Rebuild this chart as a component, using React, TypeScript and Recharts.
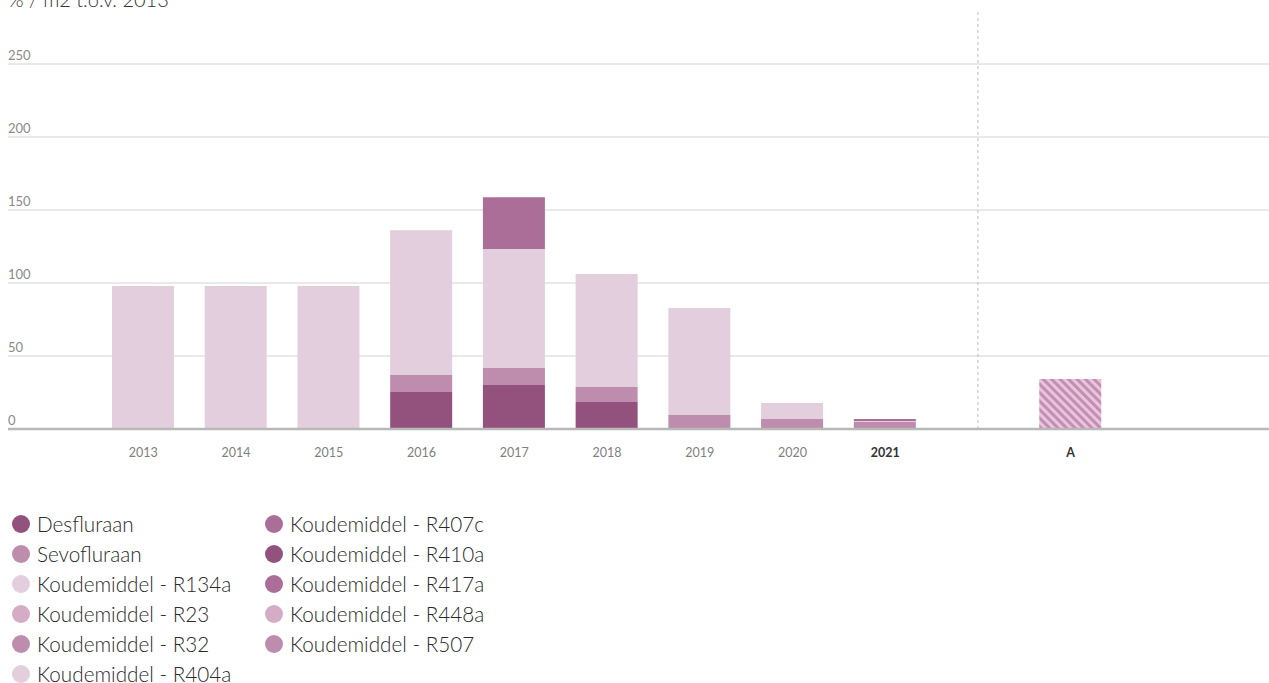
import { BarChart, Bar, XAxis, YAxis, CartesianGrid, ReferenceLine } from 'recharts';

const years = ['2013', '2014', '2015', '2016', '2017', '2018', '2019', '2020', '2021', 'gap', 'A'];
const desfluraan = [0, 0, 0, 25.3, 30.1, 18.5, 0, 0, 0];
const sevofluraan = [0, 0, 0, 11.6, 11.6, 10.3, 9.6, 6.8, 4.8];
const r134a = [98, 98, 98, 99.3, 81.5, 77.4, 73.3, 11, 0.6];
const r407c = [0, 0, 0, 0, 35.6, 0, 0, 0, 1.4];
const targetA = 34.2;
const yTicks = [0, 50, 100, 150, 200, 250];

const series = [
  { key: 'desf', name: 'Desfluraan', color: '#93527d', values: desfluraan },
  { key: 'sevo', name: 'Sevofluraan', color: '#be8cad', values: sevofluraan },
  { key: 'r134a', name: 'Koudemiddel - R134a', color: '#e3cede', values: r134a },
  { key: 'r23', name: 'Koudemiddel - R23', color: '#d4acc6', values: [] as number[] },
  { key: 'r32', name: 'Koudemiddel - R32', color: '#be8cad', values: [] as number[] },
  { key: 'r404a', name: 'Koudemiddel - R404a', color: '#e3cede', values: [] as number[] },
  { key: 'r407c', name: 'Koudemiddel - R407c', color: '#ab6e99', values: r407c },
  { key: 'r410a', name: 'Koudemiddel - R410a', color: '#93527d', values: [] as number[] },
  { key: 'r417a', name: 'Koudemiddel - R417a', color: '#ab6e99', values: [] as number[] },
  { key: 'r448a', name: 'Koudemiddel - R448a', color: '#d4acc6', values: [] as number[] },
  { key: 'r507', name: 'Koudemiddel - R507', color: '#be8cad', values: [] as number[] },
];

const data = years.map((year, i) => {
  const row: Record<string, any> = { year };
  series.forEach(s => {
    if (s.values[i] !== undefined) row[s.key] = s.values[i];
  });
  if (year === 'A') row.target = targetA;
  return row;
});

const FONT = 'Lato, "Open Sans", sans-serif';

const YTick = ({ y, payload }: any) => (
  <text x={8} y={y - 4} fontSize={13} fill="#8a8a8a" textAnchor="start" fontFamily={FONT}>
    {payload.value}
  </text>
);

const XTick = ({ x, y, payload }: any) => {
  if (payload.value === 'gap') return null;
  const bold = payload.value === '2021' || payload.value === 'A';
  return (
    <text x={x} y={y + 26} fontSize={12.5} textAnchor="middle" fontFamily={FONT}
      fill={bold ? '#333' : '#808080'} fontWeight={bold ? 700 : 400}>
      {payload.value}
    </text>
  );
};

function LegendCol({ items, left }: { items: typeof series; left: number }) {
  return (
    <div style={{ position: 'absolute', left, top: 509 }}>
      {items.map(s => (
        <div key={s.key} style={{ display: 'flex', alignItems: 'center', height: 30 }}>
          <span style={{ width: 18, height: 18, borderRadius: 9, background: s.color, marginRight: 7, flex: 'none' }} />
          <span style={{ fontSize: 20.7, fontWeight: 300, color: '#2a2a2a', fontFamily: FONT, whiteSpace: 'nowrap' }}>{s.name}</span>
        </div>
      ))}
    </div>
  );
}

export default function App() {
  return (
    <div style={{ position: 'absolute', left: 0, top: 0, width: 1269, height: 683, overflow: 'hidden', background: '#fff' }}>
      <svg width={0} height={0} style={{ position: 'absolute' }}>
        <defs>
          <pattern id="hatch" width={6} height={6} patternUnits="userSpaceOnUse" patternTransform="rotate(-45)">
            <rect width={6} height={6} fill="#e6c6da" />
            <rect width={3} height={6} fill="#c68db4" />
          </pattern>
        </defs>
      </svg>
      <svg width={400} height={20} style={{ position: 'absolute', left: 0, top: 0 }}>
        <text x={8} y={7} fontSize={20} fill="#333" fontFamily={FONT} fontWeight={300}>% / m2 t.o.v. 2013</text>
      </svg>
      <div style={{ position: 'absolute', left: 0, top: 0 }}>
        <BarChart width={1269} height={470} data={data} margin={{ top: 12, right: 0, left: 7, bottom: 0 }}>
          <CartesianGrid vertical={false} stroke="#e2e2e2" strokeWidth={1.5} syncWithTicks />
          <XAxis dataKey="year" tick={<XTick />} tickLine={false} tickSize={0} axisLine={{ stroke: '#b8b8b8', strokeWidth: 2.5 }}
            padding={{ left: 89, right: 152 }} height={41} interval={0} />
          <YAxis width={1} domain={[0, 285.6]} ticks={yTicks} tick={<YTick />} tickLine={false} axisLine={false} allowDataOverflow interval={0} />
          <ReferenceLine x="gap" stroke="#bdbdbd" strokeDasharray="3 3" />
          {series.map(s => (
            <Bar key={s.key} dataKey={s.key} name={s.name} stackId="a" fill={s.color} barSize={62} isAnimationActive={false} />
          ))}
          <Bar dataKey="target" stackId="a" fill="url(#hatch)" barSize={62} isAnimationActive={false} />
        </BarChart>
      </div>
      <LegendCol items={series.slice(0, 6)} left={12} />
      <LegendCol items={series.slice(6)} left={265} />
    </div>
  );
}
